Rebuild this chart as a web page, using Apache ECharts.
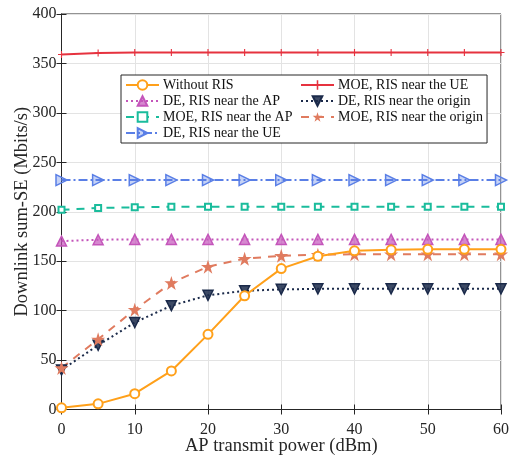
<!DOCTYPE html>
<html>
<head>
<meta charset="utf-8">
<script src="https://cdn.jsdelivr.net/npm/echarts@6/dist/echarts.min.js"></script>
<style>
  html, body { margin: 0; padding: 0; background: #fff; }
  #chart { width: 511px; height: 455px; }
</style>
</head>
<body>
<div id="chart"></div>
<script>
// AP transmit power (dBm)
const power = [0, 5, 10, 15, 20, 25, 30, 35, 40, 45, 50, 55, 60];

// Downlink sum-SE (Mbits/s) for each scheme
const withoutRIS    = [1.7, 5.7, 16, 39, 76, 115, 142.5, 155, 160.5, 161.5, 162, 162, 162];
const moeNearUE     = [359, 360.5, 361, 361, 361, 361, 361, 361, 361, 361, 361, 361, 361];
const deNearAP      = [170.3, 171.7, 172, 172, 172, 172, 172, 172, 172, 172, 172, 172, 172];
const deNearOrigin  = [40, 65, 88, 105, 115.5, 120, 121.5, 122, 122, 122, 122, 122, 122];
const moeNearAP     = [202, 203.8, 204.5, 205, 205, 205, 205, 205, 205, 205, 205, 205, 205];
const moeNearOrigin = [42, 71, 101, 128, 144.5, 152.5, 155.5, 156.5, 157, 157, 157, 157, 157];
const deNearUE      = [232, 232, 232, 232, 232, 232, 232, 232, 232, 232, 232, 232, 232];

const xTicks = [0, 10, 20, 30, 40, 50, 60];
const yTicks = [0, 50, 100, 150, 200, 250, 300, 350, 400];

const FONT = 'Liberation Serif';
const plusPath = 'path://M4.2,0 L5.8,0 L5.8,4.2 L10,4.2 L10,5.8 L5.8,5.8 L5.8,10 L4.2,10 L4.2,5.8 L0,5.8 L0,4.2 L4.2,4.2 Z';
const starPath = 'path://M50,0 L61.8,36.2 L100,36.2 L69.1,58.8 L80.9,95.1 L50,72.7 L19.1,95.1 L30.9,58.8 L0,36.2 L38.2,36.2 Z';

function pairs(ys) { return power.map((x, i) => [x, ys[i]]); }

function mk(name, ys, color, lineType, symbol, size, fill, extra) {
  return Object.assign({
    name: name,
    type: 'line',
    data: pairs(ys),
    symbol: symbol,
    symbolSize: size,
    showAllSymbol: true,
    lineStyle: { color: color, width: 2, type: lineType },
    itemStyle: { color: fill, borderColor: color, borderWidth: 1.5 },
    emphasis: { disabled: true },
    animation: false,
    z: 3
  }, extra || {});
}

const series = [
  mk('Without RIS', withoutRIS, '#FFA01A', 'solid', 'emptyCircle', 9, '#FFA01A',
     { z: 6, itemStyle: { color: '#FFA01A', borderWidth: 1.6 } }),
  mk('DE, RIS near the AP', deNearAP, '#C455BA', [2, 3], 'triangle', 10, 'rgba(196,85,186,0.7)'),
  mk('MOE, RIS near the AP', moeNearAP, '#1ABC9C', [8, 7], 'emptyRect', 6, '#1ABC9C',
     { itemStyle: { color: '#1ABC9C', borderWidth: 1.5 } }),
  mk('DE, RIS near the UE', deNearUE, '#5A7FE6', [9, 3, 2, 3], 'triangle', 11, 'rgba(90,127,230,0.35)', { symbolRotate: -90 }),
  mk('MOE, RIS near the UE', moeNearUE, '#E6323F', 'solid', plusPath, 7, '#E6323F',
     { itemStyle: { color: '#E6323F', borderWidth: 0 } }),
  mk('DE, RIS near the origin', deNearOrigin, '#1B2A4A', [2, 3], 'triangle', 10, 'rgba(27,42,74,0.85)', { symbolRotate: 180 }),
  mk('MOE, RIS near the origin', moeNearOrigin, '#E07B5F', [8, 7], starPath, 14, '#E07B5F',
     { itemStyle: { color: '#E07B5F', borderWidth: 0 } })
];

const axisLine = { show: true, lineStyle: { color: '#262626', width: 1 } };
const splitLine = { show: true, lineStyle: { color: '#e3e3e3', width: 1 } };
const innerTick = { show: true, inside: true, length: 5, lineStyle: { color: '#262626' } };

const chart = echarts.init(document.getElementById('chart'), null, { renderer: 'canvas' });
chart.setOption({
  backgroundColor: '#fff',
  textStyle: { fontFamily: FONT },
  grid: {
    left: 61.5, right: 10, top: 14, bottom: 45.5,
    outerBoundsMode: 'none', containLabel: false,
    show: true, borderColor: '#262626', borderWidth: 1, backgroundColor: 'transparent'
  },
  legend: {
    orient: 'vertical',
    left: 121,
    top: 75,
    height: 72,
    itemGap: 2,
    itemWidth: 33,
    itemHeight: 12,
    padding: [3, 4, 3, 4],
    backgroundColor: '#fff',
    borderColor: '#262626',
    borderWidth: 1,
    borderRadius: 0,
    textStyle: { fontFamily: FONT, fontSize: 14, color: '#111', lineHeight: 14, width: 135, padding: [0, 0, 0, -1] },
    data: series.map(s => s.name),
    selectedMode: false
  },
  xAxis: [{
    type: 'value', min: 0, max: 60, interval: 10,
    name: 'AP transmit power (dBm)', nameLocation: 'middle', nameGap: 27.5, nameMoveOverlap: false,
    nameTextStyle: { fontFamily: FONT, fontSize: 18.5, color: '#262626' },
    axisLine: axisLine,
    axisTick: innerTick,
    axisLabel: { fontFamily: FONT, fontSize: 16, color: '#262626', margin: 12,
      formatter: v => xTicks.includes(v) ? String(v) : '' },
    splitLine: splitLine
  }, {
    type: 'value', min: 0, max: 60, interval: 10, position: 'top',
    axisLine: axisLine, axisTick: innerTick,
    axisLabel: { show: false }, splitLine: { show: false }
  }],
  yAxis: [{
    type: 'value', min: 0, max: 400, interval: 50,
    name: 'Downlink sum-SE (Mbits/s)', nameLocation: 'middle', nameGap: 30, nameMoveOverlap: false,
    nameTextStyle: { fontFamily: FONT, fontSize: 18.5, color: '#262626' },
    axisLine: axisLine,
    axisTick: innerTick,
    axisLabel: { fontFamily: FONT, fontSize: 16, color: '#262626', margin: 5,
      formatter: v => yTicks.includes(v) ? String(v) : '' },
    splitLine: splitLine
  }, {
    type: 'value', min: 0, max: 400, interval: 50, position: 'right',
    axisLine: axisLine, axisTick: innerTick,
    axisLabel: { show: false }, splitLine: { show: false }
  }],
  series: series
});
</script>
</body>
</html>
